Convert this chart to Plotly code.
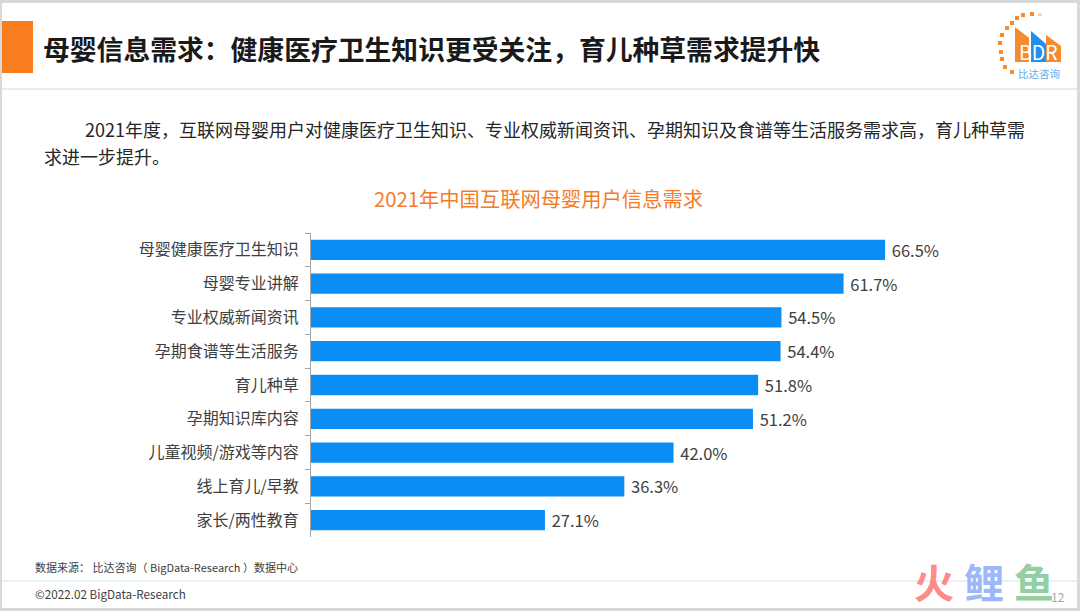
import plotly.graph_objects as go

W, H = 1080, 611

categories = ["母婴健康医疗卫生知识", "母婴专业讲解", "专业权威新闻资讯", "孕期食谱等生活服务", "育儿种草",
              "孕期知识库内容", "儿童视频/游戏等内容", "线上育儿/早教", "家长/两性教育"]
values = [66.5, 61.7, 54.5, 54.4, 51.8, 51.2, 42.0, 36.3, 27.1]
value_labels = ["66.5%", "61.7%", "54.5%", "54.4%", "51.8%", "51.2%", "42.0%", "36.3%", "27.1%"]

FONT = "Noto Sans CJK SC"


def px(x):
    return x / W


def py(y):
    return 1 - y / H


def texte(x, y, s, size, color="#262626", anchor="left"):
    # position en pixels de la photo
    return dict(xref="paper", yref="paper", x=px(x), y=py(y), text=s, showarrow=False, xanchor=anchor,
                yanchor="middle", font=dict(family=FONT, size=size, color=color))


def rect(x0, y0, x1, y1, color):
    return dict(type="rect", xref="paper", yref="paper", x0=px(x0), x1=px(x1), y0=py(y0), y1=py(y1),
                fillcolor=color, line_width=0, layer="below")


def ligne(x0, y0, x1, y1, color):
    return dict(type="line", xref="paper", yref="paper", x0=px(x0), x1=px(x1), y0=py(y0), y1=py(y1),
                line=dict(color=color, width=1), layer="below")


def poly(points, color):
    chemin = "M " + " L ".join(f"{px(a)},{py(b)}" for a, b in points) + " Z"
    return dict(type="path", xref="paper", yref="paper", path=chemin, fillcolor=color, line_width=0)


fig = go.Figure(go.Bar(
    y=categories, x=values, orientation="h", marker=dict(color="#0A8EF5", line_width=0), width=0.6,
    text=value_labels, texttemplate="\u00a0%{text}", textposition="outside", cliponaxis=False,
    constraintext="none", textfont=dict(family=FONT, size=16.5, color="#404040"),
))

formes = [
    # cadre de la diapo
    rect(0, 0, W, 3, "#D9D9D9"), rect(0, 0, 2, H, "#D9D9D9"),
    rect(W - 3, 0, W, H, "#D9D9D9"), rect(0, H - 3, W, H, "#D9D9D9"),
    rect(2, 21, 33, 73, "#FA7D1E"),
    ligne(2, 89, W - 3, 89, "#C9D7E8"),
    ligne(2, 581, W - 3, 581, "#CFE6EA"),
    # logo BDR
    poly([(1015, 27), (1029, 38), (1029, 62), (1015, 62)], "#F58A2E"),
    poly([(1031, 31), (1046, 44), (1046, 62), (1031, 62)], "#1E90F0"),
    poly([(1046, 35), (1061, 46), (1061, 62), (1046, 62)], "#F58A2E"),
]
# petits points de l'arc autour du logo
arc = [(1012, 72), (1005, 67), (1002, 59), (1001, 52), (1000, 43), (1002, 35), (1007, 28), (1012, 23),
       (1017, 18), (1023, 15), (1032, 14)]
for a, b in arc:
    formes.append(rect(a - 2, b - 2, a + 2, b + 2, "#F58A2E"))
formes.append(rect(1038, 13, 1042, 16, "#FBD5B5"))

annotations = [
    texte(41, 48, "<b>母婴信息需求：健康医疗卫生知识更受关注，育儿种草需求提升快</b>", 26.8, "#1A1A1A"),
    texte(83, 129, "2021年度，互联网母婴用户对健康医疗卫生知识、专业权威新闻资讯、孕期知识及食谱等生活服务需求高，育儿种草需", 18, "#262626"),
    texte(42, 156, "求进一步提升。", 18, "#262626"),
    texte(538, 198, "2021年中国互联网母婴用户信息需求", 20.3, "#F47B2A", "center"),
    texte(33, 567, "数据来源： 比达咨询（ BigData-Research ）数据中心", 11, "#404040"),
    texte(33, 593, "©2022.02 BigData-Research", 11.7, "#404040"),
    texte(1038, 51, "BDR", 19.5, "#FFFFFF", "center"),
    texte(1039, 73, "比达咨询", 10.5, "#5FA8E8", "center"),
    texte(934, 581, "<b>火</b>", 40, "#FF8A8A", "center"),
    texte(984, 581, "<b>鲤</b>", 40, "#9DB8FA", "center"),
    texte(1034, 581, "<b>鱼</b>", 40, "#93CFA0", "center"),
    texte(1058, 596, "12", 12, "#A6A6A6", "center"),
]

fig.update_layout(
    width=W, height=H, margin=dict(l=0, r=0, t=0, b=0), paper_bgcolor="white", plot_bgcolor="white",
    showlegend=False, shapes=formes, annotations=annotations,
    font=dict(family=FONT),
    xaxis=dict(domain=[px(311), px(1011)], range=[0, 700 / 8.632], visible=False),
    yaxis=dict(domain=[py(537), py(233)], autorange="reversed", type="category", ticks="outside", ticklen=5,
               tickson="boundaries", tickcolor="#A6A6A6", showline=True, linecolor="#A6A6A6", linewidth=1,
               showgrid=False, tickfont=dict(family=FONT, size=16, color="#404040"), ticklabelstandoff=8),
)

# la page garde sinon la marge de 8 px du body
fig.write_html("out.html", config=dict(displayModeBar=False), post_script="document.body.style.margin = '0';")
